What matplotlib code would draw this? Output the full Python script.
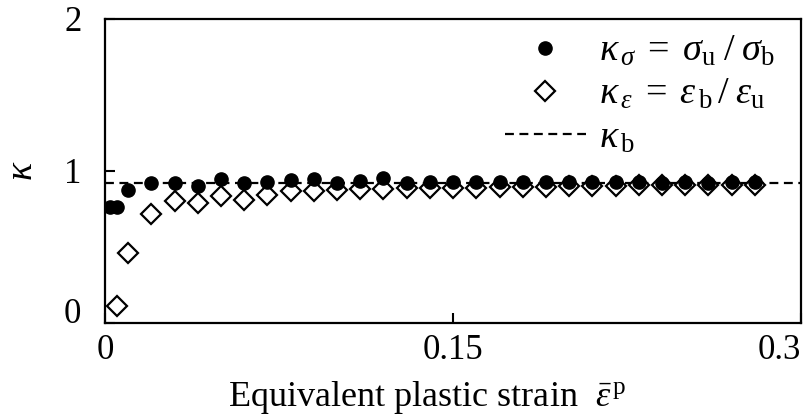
import matplotlib
matplotlib.use("Agg")
import matplotlib.pyplot as plt

plt.rcParams['font.family'] = ['Liberation Serif', 'DejaVu Serif']
plt.rcParams['mathtext.fontset'] = 'custom'
plt.rcParams['mathtext.rm'] = 'Liberation Serif'
plt.rcParams['mathtext.it'] = 'Liberation Serif:italic'
plt.rcParams['mathtext.fallback'] = 'stix'

# Equivalent plastic strain sampling for each ratio
strain_sigma = [0.002, 0.005, 0.01, 0.02, 0.03, 0.04, 0.05, 0.06, 0.07, 0.08,
                0.09, 0.10, 0.11, 0.12, 0.13, 0.14, 0.15, 0.16, 0.17, 0.18,
                0.19, 0.20, 0.21, 0.22, 0.23, 0.24, 0.25, 0.26, 0.27, 0.28]
kappa_sigma = [0.76, 0.76, 0.875, 0.92, 0.92, 0.90, 0.95, 0.92, 0.93, 0.94,
               0.945, 0.92, 0.935, 0.955, 0.92, 0.925, 0.925, 0.925, 0.93, 0.93,
               0.93, 0.925, 0.93, 0.925, 0.925, 0.92, 0.925, 0.92, 0.925, 0.925]

strain_eps = [0.005, 0.01, 0.02, 0.03, 0.04, 0.05, 0.06, 0.07, 0.08, 0.09,
              0.10, 0.11, 0.12, 0.13, 0.14, 0.15, 0.16, 0.17, 0.18, 0.19,
              0.20, 0.21, 0.22, 0.23, 0.24, 0.25, 0.26, 0.27, 0.28]
kappa_eps = [0.11, 0.46, 0.72, 0.805, 0.79, 0.835, 0.81, 0.845, 0.865, 0.87,
             0.875, 0.88, 0.88, 0.885, 0.885, 0.89, 0.89, 0.895, 0.895, 0.895,
             0.90, 0.90, 0.90, 0.905, 0.905, 0.905, 0.91, 0.91, 0.91]

kappa_b = 0.92

x_ticks = [0, 0.15, 0.3]
x_tick_labels = ['0', '0.15', '0.3']
y_ticks = [0, 1, 2]
y_tick_labels = ['0', '1', '2']

fig = plt.figure(figsize=(8.07, 4.19), dpi=100)
ax = fig.add_axes([0.130, 0.229, 0.863, 0.726])

ax.axhline(kappa_b, color='black', lw=1.6, linestyle=(0, (4, 2.5)),
           label=r'$\kappa_{\,\rm b}$', zorder=2)
ax.plot(strain_eps, kappa_eps, linestyle='none', marker='D', markersize=10.5,
        markerfacecolor='white', markeredgecolor='black', markeredgewidth=1.6,
        label=r'$\kappa_{\,\varepsilon}\;=\;\varepsilon_{\,\rm b}\,/\;\varepsilon_{\rm u}$',
        zorder=3)
ax.plot(strain_sigma, kappa_sigma, linestyle='none', marker='o', markersize=9.5,
        color='black',
        label=r'$\kappa_{\,\sigma}\;=\;\sigma_{\rm u}\;/\;\sigma_{\rm b}$',
        zorder=4)

ax.set_xlim(0, 0.3)
ax.set_ylim(0, 2)
ax.set_xticks(x_ticks)
ax.set_xticklabels(x_tick_labels)
ax.set_yticks(y_ticks)
ax.set_yticklabels(y_tick_labels)
ax.tick_params(direction='in', length=7, width=1.5, labelsize=25)
ax.tick_params(axis='y', pad=17)
ax.tick_params(axis='x', pad=8)
ax.get_xticklabels()[-1].set_ha('right')
ax.get_yticklabels()[0].set_va('baseline')
for sp in ax.spines.values():
    sp.set_linewidth(1.6)

ax.set_xlabel(r'Equivalent plastic strain  $\bar{\varepsilon}^{\,\rm p}$', fontsize=26)
ax.xaxis.set_label_coords(0.463, -0.185)
ax.set_ylabel(r'$\kappa$', fontsize=27, labelpad=17)

handles, labels = ax.get_legend_handles_labels()
order = [2, 1, 0]
ax.legend([handles[i] for i in order], [labels[i] for i in order],
          loc='upper right', frameon=False, fontsize=27.5,
          bbox_to_anchor=(0.995, 1.025), handlelength=2.1, handletextpad=0.35,
          labelspacing=0.22, borderaxespad=0.2)

fig.savefig('out.png', dpi=100)
